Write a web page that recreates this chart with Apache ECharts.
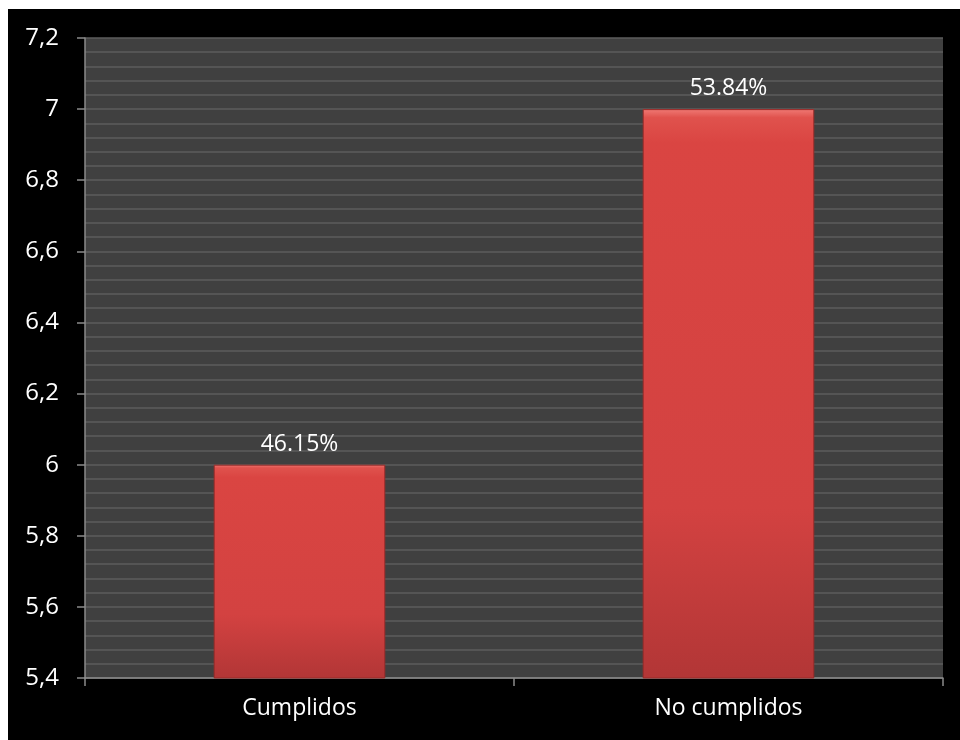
<!DOCTYPE html>
<html>
<head>
<meta charset="utf-8">
<script src="https://cdn.jsdelivr.net/npm/echarts@6/dist/echarts.min.js"></script>
<style>
html,body{margin:0;padding:0;background:#fff;width:960px;height:740px;overflow:hidden;}
#chart{position:absolute;left:8px;top:9px;width:952px;height:731px;}
</style>
</head>
<body>
<div id="chart"></div>
<script>
var categories = ['Cumplidos', 'No cumplidos'];
var values = [6, 7];
var valueLabels = ['46.15%', '53.84%'];
var yTicks = { min: 5.4, max: 7.2, interval: 0.2 };

var chart = echarts.init(document.getElementById('chart'), null, {renderer: 'canvas'});
var font = '"Open Sans", "DejaVu Sans", sans-serif';
chart.setOption({
  backgroundColor: '#000000',
  animation: false,
  grid: {
    left: 77, top: 29, right: 17, bottom: 62,
    show: true, backgroundColor: '#404040', borderWidth: 0
  },
  xAxis: {
    type: 'category',
    data: categories,
    axisLine: { lineStyle: { color: '#8a8a8a', width: 1.5 } },
    axisTick: { show: true, length: 8, interval: 0, lineStyle: { color: '#8a8a8a', width: 1.5 } },
    axisLabel: { color: '#ffffff', fontSize: 23, fontFamily: font, margin: 19 }
  },
  yAxis: {
    type: 'value',
    min: yTicks.min, max: yTicks.max, interval: yTicks.interval,
    axisLine: { show: true, lineStyle: { color: '#8a8a8a', width: 1.5 } },
    axisTick: { show: true, length: 8, lineStyle: { color: '#8a8a8a', width: 1.5 } },
    axisLabel: {
      color: '#ffffff', fontSize: 24, fontFamily: font, margin: 26,
      formatter: function (v) { return (Math.round(v * 10) / 10).toString().replace('.', ','); }
    },
    splitLine: { show: true, lineStyle: { color: '#5c5c5c', width: 1.5 } },
    minorTick: { show: false, splitNumber: 5 },
    minorSplitLine: { show: true, lineStyle: { color: '#5c5c5c', width: 1.5 } }
  },
  series: [{
    type: 'bar',
    data: values,
    barWidth: '40%',
    itemStyle: {
      color: new echarts.graphic.LinearGradient(0, 0, 0, 1, [
        { offset: 0, color: '#f07a75' },
        { offset: 0.015, color: '#e0524d' },
        { offset: 0.06, color: '#da4542' },
        { offset: 0.7, color: '#d34241' },
        { offset: 1, color: '#b23636' }
      ]),
      borderColor: '#9a2a28',
      borderWidth: 1
    },
    label: {
      show: true, position: 'top', distance: 9,
      color: '#ffffff', fontSize: 23, fontFamily: font,
      formatter: function (p) { return valueLabels[p.dataIndex]; }
    }
  }]
});
</script>
</body>
</html>
